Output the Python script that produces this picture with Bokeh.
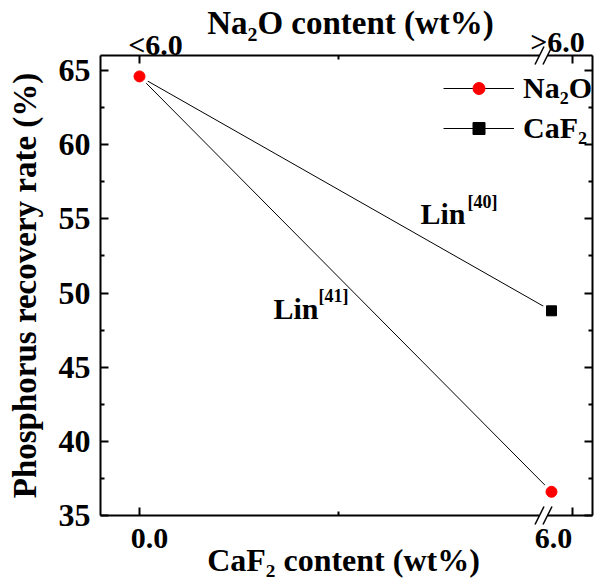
from bokeh.plotting import figure
from bokeh.models import (Label, Legend, LegendItem, LinearAxis, FixedTicker,
                          Arrow, ColumnDataSource, CustomJSTickFormatter)
from bokeh.embed import file_html
from bokeh.resources import INLINE

# ---------------- data ----------------
x_points = [0.0, 6.0]
na2o_recovery = [64.6, 36.6]
caf2_recovery = [64.6, 48.8]
series_names = ["Na\u2082O", "CaF\u2082"]
y_title = "Phosphorus recovery rate (%)"
top_title = "Na\u2082O content (wt%)"
bottom_title = "CaF\u2082 content (wt%)"
bottom_tick_labels = ["0.0", "6.0"]
top_tick_labels = ["<6.0", ">6.0"]
x_major_ticks = [0.0, 6.306]
x_minor_ticks = [2.898]
y_ticks = [35, 40, 45, 50, 55, 60, 65]
y_minor_ticks = [37.5, 42.5, 47.5, 52.5, 57.5, 62.5]
ref_names = ["Lin", "Lin"]
ref_cites = ["[40]", "[41]"]

# ---------------- layout (pixels) ----------------
FONT = "Liberation Serif"
W, H = 595, 578
# frame box of the chart inside the canvas
FL, FR, FT, FB = 100, 592, 55, 515
# pixel anchors of the data scale
PX0, PX6 = 139.0, 551.0          # x = 0 and x = 6
PY35, PY65 = 515.0, 70.0         # y = 35 and y = 65
SX = (PX6 - PX0) / 6.0
SY = (PY35 - PY65) / 30.0


def dx(px):
    return (px - PX0) / SX


def dy(py):
    return 35.0 + (PY35 - py) / SY


p = figure(width=W, height=H, x_range=(dx(0), dx(W)), y_range=(dy(H), dy(0)),
           output_backend="svg", toolbar_location=None, title=None,
           min_border_left=0, min_border_right=0, min_border_top=0, min_border_bottom=0,
           x_axis_location=None, y_axis_location=None)
p.xgrid.visible = False
p.ygrid.visible = False
p.outline_line_color = None
p.background_fill_color = "white"
p.border_fill_color = "white"

blank = CustomJSTickFormatter(code="return ''")


def style_axis(ax, show_labels=False):
    ax.axis_line_width = 2
    ax.axis_line_color = "black"
    ax.major_tick_in = 8
    ax.major_tick_out = 0
    ax.minor_tick_in = 4
    ax.minor_tick_out = 0
    ax.major_tick_line_width = 2
    ax.minor_tick_line_width = 2
    ax.major_tick_line_color = "black"
    ax.minor_tick_line_color = "black"
    if show_labels:
        ax.major_label_text_font = FONT
        ax.major_label_text_font_size = "32px"
        ax.major_label_text_font_style = "bold"
        ax.major_label_text_color = "black"
        ax.major_label_standoff = 10
    else:
        ax.formatter = blank
        ax.major_label_standoff = 0


yticker = FixedTicker(ticks=y_ticks, minor_ticks=y_minor_ticks)
xticker = FixedTicker(ticks=x_major_ticks, minor_ticks=x_minor_ticks)

yl = LinearAxis(ticker=yticker, fixed_location=dx(FL), bounds=(dy(FB), dy(FT)))
style_axis(yl, True)
yl.axis_label = y_title
yl.axis_label_text_font = FONT
yl.axis_label_text_font_size = "33px"
yl.axis_label_text_font_style = "bold"
yl.axis_label_text_color = "black"
yl.axis_label_standoff = 13
p.add_layout(yl, "left")

yr = LinearAxis(ticker=yticker, fixed_location=dx(FR), bounds=(dy(FB), dy(FT)))
style_axis(yr)
p.add_layout(yr, "right")

xb = LinearAxis(ticker=xticker, fixed_location=dy(FB), bounds=(dx(FL), dx(FR)))
style_axis(xb)
p.add_layout(xb, "below")

xt = LinearAxis(ticker=xticker, fixed_location=dy(FT), bounds=(dx(FL), dx(FR)))
style_axis(xt)
p.add_layout(xt, "above")

# ---------------- series ----------------
src_na = ColumnDataSource(dict(x=x_points, y=na2o_recovery))
src_ca = ColumnDataSource(dict(x=x_points, y=caf2_recovery))

l_ca = p.line("x", "y", source=src_ca, line_color="black", line_width=1)
l_na = p.line("x", "y", source=src_na, line_color="black", line_width=1)
# white gap around symbols, then symbols
p.scatter("x", "y", source=src_ca, marker="circle", size=19, fill_color="white", line_color=None)
s_ca = p.scatter("x", "y", source=src_ca, marker="square", size=10,
                 fill_color="black", line_color="black")
p.scatter("x", "y", source=src_na, marker="circle", size=19, fill_color="white", line_color=None)
s_na = p.scatter("x", "y", source=src_na, marker="circle", size=11,
                 fill_color="#ff0000", line_color="#ff0000")

legend = Legend(items=[LegendItem(label=series_names[0], renderers=[l_na, s_na]),
                       LegendItem(label=series_names[1], renderers=[l_ca, s_ca])],
                location=(443, H - 145), padding=0, margin=0, spacing=6,
                glyph_width=71, glyph_height=30, label_height=30, label_standoff=9,
                border_line_color=None, background_fill_alpha=0)
legend.label_text_font = FONT
legend.label_text_font_size = "30px"
legend.label_text_font_style = "bold"
legend.label_text_color = "black"
p.add_layout(legend)


def lab(text, x, baseline, size, align="left"):
    # x, baseline in canvas pixels from top-left
    p.add_layout(Label(x=x, y=H - baseline + 0.3 * size, x_units="screen", y_units="screen",
                       text=text, text_font=FONT, text_font_size=f"{size}px",
                       text_font_style="bold", text_color="black", text_align=align,
                       text_baseline="alphabetic"))


# x tick labels
lab(bottom_tick_labels[0], 149, 547, 30, "center")
lab(bottom_tick_labels[1], 553, 547, 30, "center")
lab(top_tick_labels[0], 155, 53, 30, "center")
lab(top_tick_labels[1], 557, 50, 30, "center")
# x titles
lab(top_title, 350, 32, 33, "center")
lab(bottom_title, 343, 569, 32, "center")
# reference annotations
lab(ref_names[0], 420, 222, 30)
lab(ref_cites[0], 467, 207, 18)
lab(ref_names[1], 273, 317, 30)
lab(ref_cites[1], 318, 301, 18)

# axis break marks
BXC = 543.0
for py in (FB, FT):
    p.add_layout(Arrow(start=None, end=None, x_start=dx(BXC - 4), y_start=dy(py),
                       x_end=dx(BXC + 4), y_end=dy(py),
                       line_color="white", line_width=4, level="overlay"))
    for off in (-4, 4):
        p.add_layout(Arrow(start=None, end=None,
                           x_start=dx(BXC + off - 4.5), y_start=dy(py + 9),
                           x_end=dx(BXC + off + 4.5), y_end=dy(py - 9),
                           line_color="black", line_width=1.5, level="overlay"))

open("out.html", "w").write(file_html(p, INLINE))
